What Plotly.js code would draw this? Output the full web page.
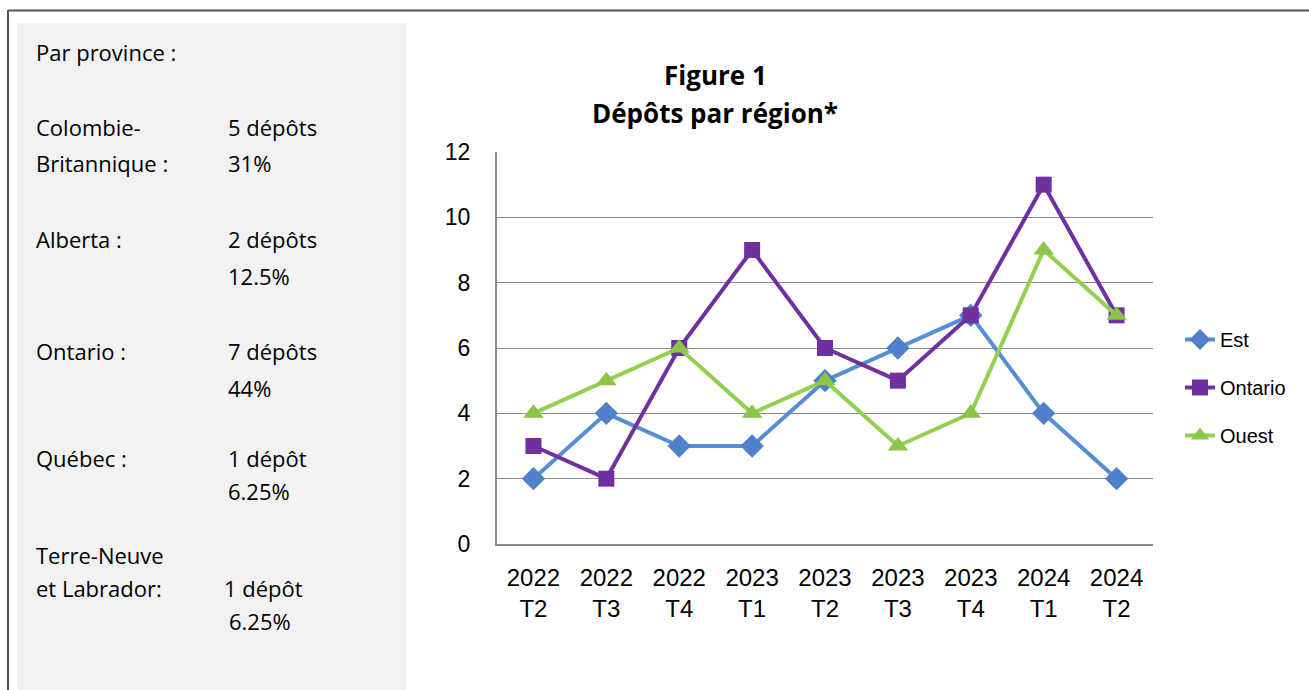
<!DOCTYPE html>
<html>
<head>
<meta charset="utf-8">
<script src="https://cdn.plot.ly/plotly-3.0.1.min.js"></script>
<style>html,body{margin:0;padding:0;background:#fff;}#chart{width:1309px;height:690px;}</style>
</head>
<body>
<div id="chart"></div>
<script>
// ---- Data ----
const quarters = ["2022<br>T2","2022<br>T3","2022<br>T4","2023<br>T1","2023<br>T2","2023<br>T3","2023<br>T4","2024<br>T1","2024<br>T2"];
const est     = [2, 4, 3, 3, 5, 6, 7, 4, 2];
const ontario = [3, 2, 6, 9, 6, 5, 7, 11, 7];
const ouest   = [4, 5, 6, 4, 5, 3, 4, 9, 7];
const seriesNames = ["Est", "Ontario", "Ouest"];
const titleLines = ["Figure 1", "Dépôts par région*"];
const sideLabels = ["Par province :", "Colombie-", "Britannique :", "Alberta :", "Ontario :", "Québec :", "Terre-Neuve", "et Labrador:"];
const sideValues = ["5 dépôts", "31%", "2 dépôts", "12.5%", "7 dépôts", "44%", "1 dépôt", "6.25%", "1 dépôt", "6.25%"];

// ---- Layout helpers (pixel -> paper) ----
const W = 1309, H = 690;
const L = 497, R = 1153, T = 152, B = 544;
const px = x => (x - L) / (R - L);
const py = y => (B - y) / (B - T);

const chartFont = "'Liberation Sans', Arial, sans-serif";
const panelFont = "'Open Sans', 'Noto Sans', sans-serif";

const traces = [
  {x: quarters, y: est, name: seriesNames[0], type: "scatter", mode: "lines+markers",
   line: {color: "#558ED5", width: 4}, marker: {symbol: "diamond", size: 18, color: "#4F81C9"}, legendgroup: "a"},
  {x: quarters, y: ontario, name: seriesNames[1], type: "scatter", mode: "lines+markers",
   line: {color: "#7030A0", width: 4}, marker: {symbol: "square", size: 16, color: "#7030A0"}, legendgroup: "b"},
  {x: quarters, y: ouest, name: seriesNames[2], type: "scatter", mode: "lines+markers",
   line: {color: "#92D050", width: 4}, marker: {symbol: "triangle-up", size: 18, color: "#8CC348"}, legendgroup: "c"}
];

const annotations = [];
// Title
annotations.push({text: "<b>" + titleLines[0] + "</b>", xref: "paper", yref: "paper", x: px(715), y: py(75),
  showarrow: false, xanchor: "center", yanchor: "middle", font: {family: panelFont, size: 26, color: "#000"}});
annotations.push({text: "<b>" + titleLines[1] + "</b>", xref: "paper", yref: "paper", x: px(715), y: py(113),
  showarrow: false, xanchor: "center", yanchor: "middle", font: {family: panelFont, size: 26, color: "#000"}});

// Side panel text
const labelY = [52, 127, 163, 239, 351, 458, 555, 588];
sideLabels.forEach((t, i) => annotations.push({text: t, xref: "paper", yref: "paper", x: px(34), y: py(labelY[i]),
  showarrow: false, xanchor: "left", yanchor: "middle", font: {family: panelFont, size: 22, color: "#000"}}));
const valY = [127, 163, 239, 276, 351, 388, 458, 491, 588, 621];
const valX = [226, 226, 226, 226, 226, 226, 226, 226, 222, 227];
sideValues.forEach((t, i) => annotations.push({text: t, xref: "paper", yref: "paper", x: px(valX[i]), y: py(valY[i]),
  showarrow: false, xanchor: "left", yanchor: "middle", font: {family: panelFont, size: 22, color: "#000"}}));

const shapes = [
  // side panel background
  {type: "rect", xref: "paper", yref: "paper", x0: px(17), x1: px(406), y0: py(23), y1: py(700),
   fillcolor: "#F2F2F2", line: {width: 0}, layer: "below"},
  // outer frame lines
  {type: "line", xref: "paper", yref: "paper", x0: px(8), x1: px(1320), y0: py(10.5), y1: py(10.5),
   line: {color: "#555555", width: 2}},
  {type: "line", xref: "paper", yref: "paper", x0: px(8), x1: px(8), y0: py(10), y1: py(700),
   line: {color: "#555555", width: 2}}
];

const layout = {
  width: W, height: H,
  margin: {l: L, r: W - R, t: T, b: H - B, pad: 0},
  paper_bgcolor: "#fff", plot_bgcolor: "#fff",
  showlegend: true,
  legend: {x: px(1180), y: py(320), xanchor: "left", yanchor: "top", bgcolor: "rgba(0,0,0,0)",
    font: {family: chartFont, size: 20, color: "#000"}, tracegroupgap: 19, itemwidth: 30},
  xaxis: {type: "category", range: [-0.5, 8.5], showgrid: false, zeroline: false,
    showline: true, linecolor: "#8C8C8C", linewidth: 2, ticks: "", ticklabelstandoff: 11,
    tickfont: {family: chartFont, size: 24, color: "#000"}, fixedrange: true},
  yaxis: {range: [0, 12], tickvals: [0, 2, 4, 6, 8, 10, 12], showgrid: true, gridcolor: "#8C8C8C", gridwidth: 1,
    zeroline: false, showline: true, linecolor: "#8C8C8C", linewidth: 2, ticks: "", ticklabelstandoff: 20,
    tickfont: {family: chartFont, size: 23, color: "#000"}, fixedrange: true},
  annotations: annotations,
  shapes: shapes
};

Plotly.newPlot("chart", traces, layout, {displayModeBar: false, staticPlot: true});
</script>
</body>
</html>
